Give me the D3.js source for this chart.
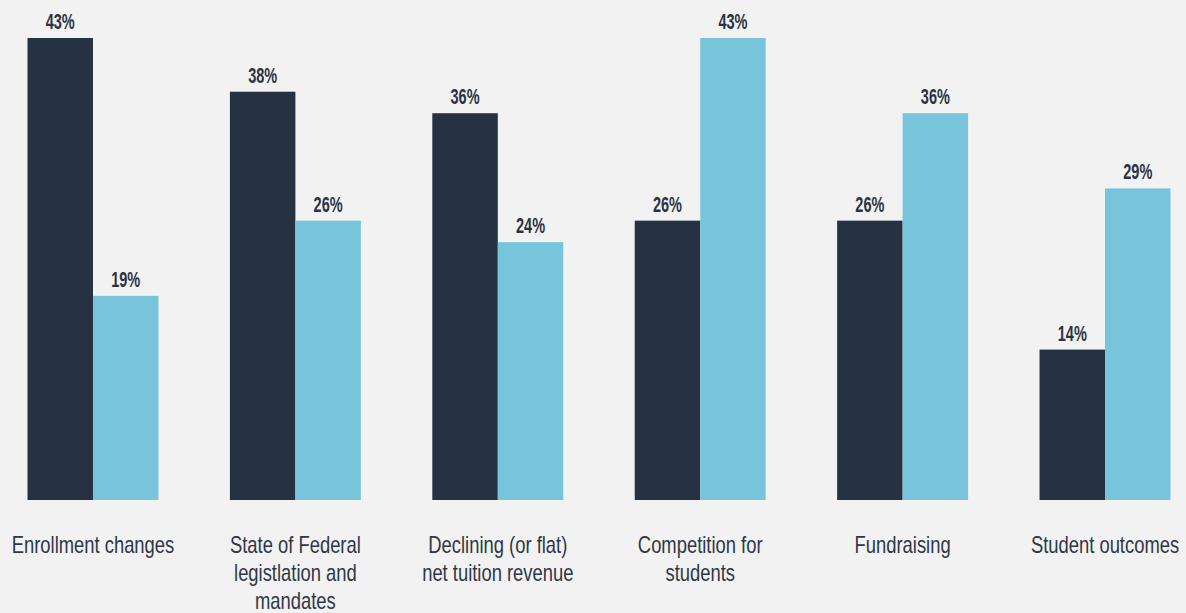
<!DOCTYPE html>
<html>
<head>
<meta charset="utf-8">
<script src="https://cdn.jsdelivr.net/npm/d3@7"></script>
<style>
  html, body { margin: 0; padding: 0; background: #f2f2f2; }
</style>
</head>
<body>
<div id="container"></div>
<script>
// categories (line breaks as in the picture)
let categories = [
    'Enrollment changes',
    'State of Federal\nlegistlation and\nmandates',
    'Declining (or flat)\nnet tuition revenue',
    'Competition for\nstudents',
    'Fundraising',
    'Student outcomes'
];
let seriesA = [43, 38, 36, 26, 26, 14];
let seriesB = [19, 26, 24, 43, 36, 29];
let seriesKeys = ['a', 'b'];
let seriesColors = ['#263142', '#78c4db'];

let width = 1186;
let height = 613;

let viz = d3.select('#container')
    .append('svg')
    .attr('width', width)
    .attr('height', height)
    .style('display', 'block')
    .style('background', '#f2f2f2')
    ;

let rows = categories.map(function (c, i) {
    return { cat: c, a: seriesA[i], b: seriesB[i] };
});

let x = d3.scaleBand()
    .domain(categories)
    .range([27.5, 1170.5])
    .paddingInner(0.353)
    .paddingOuter(0);

let xInner = d3.scaleBand()
    .domain(seriesKeys)
    .range([0, x.bandwidth()])
    .padding(0);

let y = d3.scaleLinear()
    .domain([0, 43])
    .range([500, 38]);

let groups = viz.selectAll('.group').data(rows).enter()
    .append('g')
    .attr('class', 'group')
    .attr('transform', function (d) { return 'translate(' + x(d.cat) + ',0)'; })
    ;

seriesKeys.forEach(function (k, si) {
    groups.append('rect')
        .attr('x', xInner(k))
        .attr('y', function (d) { return y(d[k]); })
        .attr('width', xInner.bandwidth())
        .attr('height', function (d) { return y(0) - y(d[k]); })
        .attr('fill', seriesColors[si]);

    // condensed look: squeeze a normal sans horizontally
    groups.append('text')
        .attr('transform', function (d) {
            return 'translate(' + (xInner(k) + xInner.bandwidth() / 2) + ',' + (y(d[k]) - 9) + ') scale(0.66,1)';
        })
        .attr('text-anchor', 'middle')
        .attr('font-family', '"Liberation Sans", Arial, sans-serif')
        .attr('font-weight', 'bold')
        .attr('font-size', 22)
        .attr('fill', '#2a3344')
        .text(function (d) { return d[k] + '%'; });
});

// category labels under the bars
let labels = groups.append('text')
    .attr('transform', 'translate(' + (x.bandwidth() / 2) + ',0) scale(0.8,1)')
    .attr('text-anchor', 'middle')
    .attr('font-family', '"Liberation Sans", Arial, sans-serif')
    .attr('font-size', 23)
    .attr('fill', '#2f3747')
    ;

labels.selectAll('tspan')
    .data(function (d) { return d.cat.split('\n'); })
    .enter()
    .append('tspan')
    .attr('x', 0)
    .attr('y', function (d, i) { return 553 + i * 28; })
    .text(function (d) { return d; });
</script>
</body>
</html>
